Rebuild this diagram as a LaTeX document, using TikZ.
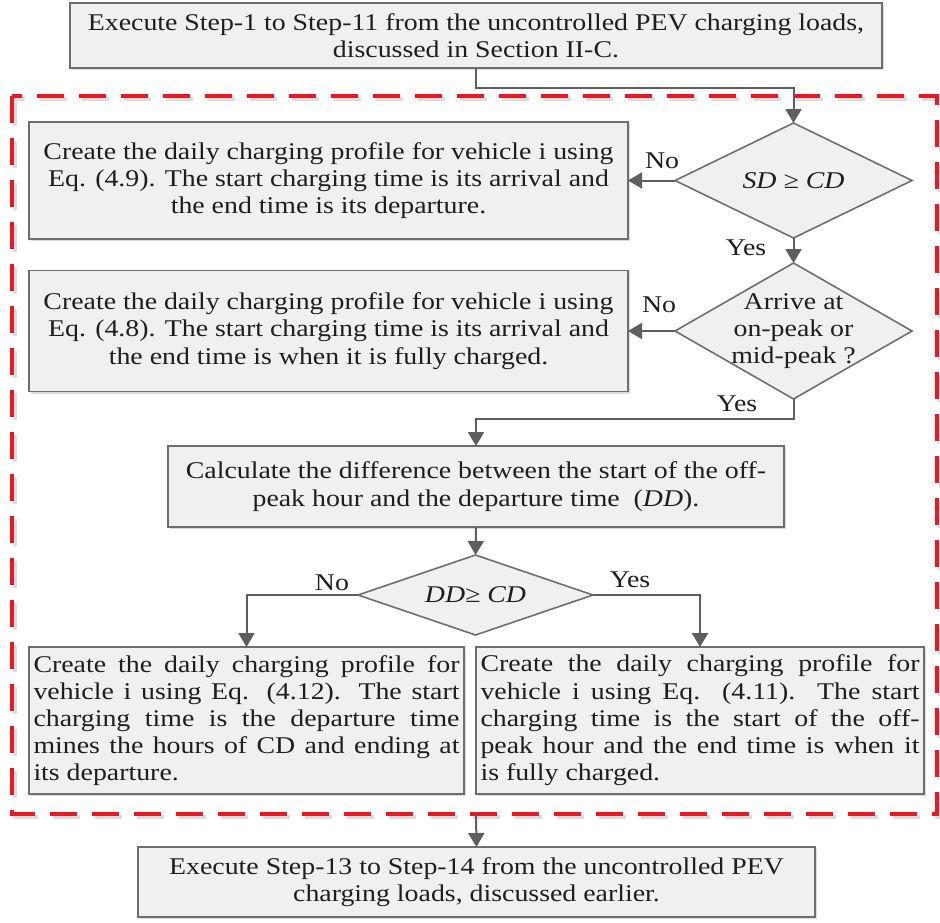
\documentclass[tikz,border=0pt]{standalone}
\usepackage{fontspec}
\setmainfont{Liberation Serif}[FakeStretch=1.16]
\usetikzlibrary{shapes.geometric,arrows.meta,shadows}
\definecolor{boxfill}{HTML}{F0F0F0}
\definecolor{boxline}{HTML}{6E6E6E}
\definecolor{wire}{HTML}{5E5E5E}
\definecolor{framered}{HTML}{EA1822}
\definecolor{ink}{HTML}{1E1E1E}
\definecolor{shadowgray}{HTML}{DCDCDC}

\begin{document}
\begin{tikzpicture}[x=0.5pt,y=-0.5pt,
  every node/.style={font=\fontsize{12}{13.6}\selectfont, text=ink},
  procbox/.style={rectangle, draw=boxline, line width=0.8pt, fill=boxfill,
    inner sep=0pt, outer sep=0pt,
    drop shadow={shadow xshift=1.2pt, shadow yshift=-1.2pt, fill=shadowgray, opacity=1}},
  decision/.style={diamond, draw=boxline, line width=0.8pt, fill=boxfill,
    inner sep=0pt, outer sep=0pt},
  conn/.style={draw=wire, line width=1pt, -{Triangle[length=7pt,width=8pt]}},
  lbl/.style={inner sep=0pt},
  framestyle/.style={line width=1.7pt, dash pattern=on 13.5pt off 7.5pt},
]
\useasboundingbox (0,0) rectangle (940,922);

% dashed frame around the scheduling steps
\draw[framestyle, draw=shadowgray] (15,99) rectangle (940,817);
\draw[framestyle, draw=framered] (12,96) rectangle (937,814);
\coordinate (fb) at (476,814);

% process boxes
\node[procbox, minimum width=406pt, minimum height=32.5pt, align=center] (top) at (476,35.5)
  {Execute Step-1 to Step-11 from the uncontrolled PEV charging loads,\\discussed in Section II-C.};

\node[procbox, minimum width=299.5pt, minimum height=58.5pt, align=center] (b1) at (328.5,180.5)
  {Create the daily charging profile for vehicle i using\\Eq. (4.9). The start charging time is its arrival and\\the end time is its departure.};

\node[procbox, minimum width=299.5pt, minimum height=60.5pt, align=center] (b2) at (328.5,331)
  {Create the daily charging profile for vehicle i using\\Eq. (4.8). The start charging time is its arrival and\\the end time is when it is fully charged.};

\node[procbox, minimum width=308pt, minimum height=40.5pt, align=center] (b3) at (476,486.5)
  {Calculate the difference between the start of the off-\\peak hour and the departure time\ \ (\textit{DD}).};

\node[procbox, minimum width=217.5pt, minimum height=73.5pt, text width=213pt, align=justify] (b4) at (246.5,720.5)
  {Create the daily charging profile for\linebreak vehicle i using Eq. (4.12). The start\linebreak charging time is the departure time\linebreak mines the hours of CD and ending at\linebreak its departure.};

\node[procbox, minimum width=224pt, minimum height=73.5pt, text width=219.5pt, align=justify] (b5) at (700,720.5)
  {Create the daily charging profile for\linebreak vehicle i using Eq. (4.11). The start\linebreak charging time is the start of the off-\linebreak peak hour and the end time is when it\linebreak is fully charged.};

\node[procbox, minimum width=338.5pt, minimum height=35pt, align=center] (bot) at (476.5,882)
  {Execute Step-13 to Step-14 from the uncontrolled PEV\\charging loads, discussed earlier.};

% decisions
\node[decision, minimum width=118.5pt, minimum height=57.5pt] (d1) at (793.5,180.5) {};
\node (d1t) at (d1) {\textit{SD ≥ CD}};

\node[decision, minimum width=118.5pt, minimum height=68pt] (d2) at (793.5,331) {};
\node[align=center] (d2t) at (d2) {Arrive at\\on-peak or\\mid-peak ?};

\node[decision, minimum width=117.5pt, minimum height=40pt] (d3) at (475.5,595) {};
\node (d3t) at (d3) {\textit{DD≥ CD}};

% branch labels
\node[lbl] (n1) at (662,161) {No};
\node[lbl] (y1) at (746,248) {Yes};
\node[lbl] (n2) at (659,305) {No};
\node[lbl] (y2) at (737,404) {Yes};
\node[lbl] (n3) at (332,583) {No};
\node[lbl] (y3) at (630,580) {Yes};

% connectors
\draw[conn] (top.south) -- ++(0,20) -| (d1.north);
\draw[conn] (d1.west) -- (b1.east);
\draw[conn] (d1.south) -- (d2.north);
\draw[conn] (d2.west) -- (b2.east);
\draw[conn] (d2.south) -- ++(0,20) -| (b3.north);
\draw[conn] (b3.south) -- (d3.north);
\draw[conn] (d3.west) -| (b4.north);
\draw[conn] (d3.east) -| (b5.north);
\draw[conn] (fb) -- (bot.north);
\end{tikzpicture}
\end{document}
